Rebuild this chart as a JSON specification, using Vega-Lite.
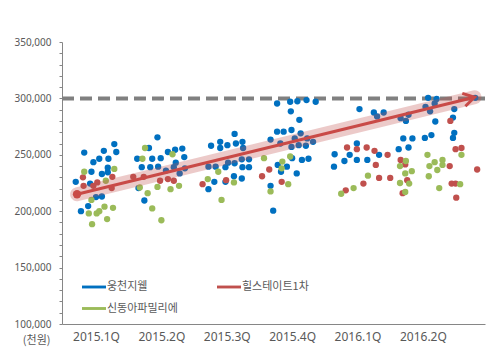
{
  "$schema": "https://vega.github.io/schema/vega-lite/v6.json",
  "width": 423,
  "height": 282,
  "autosize": {"type": "none"},
  "padding": {"left": 62, "top": 42, "right": 15, "bottom": 30},
  "background": "white",
  "config": {"view": {"stroke": null}, "font": "Noto Sans"},
  "datasets": {
    "trend": [{"t": -0.29, "price": 215000}, {"t": 5.79, "price": 301000}],
    "target": [{"t": -0.52, "price": 300000}, {"t": 5.95, "price": 300000}],
    "points": [
      {"name": "웅천지웰", "t": -0.18, "price": 252000}, {"name": "웅천지웰", "t": -0.04, "price": 243500}, {"name": "웅천지웰", "t": 0.05, "price": 246500}, {"name": "웅천지웰", "t": 0.12, "price": 253500}, {"name": "웅천지웰", "t": 0.19, "price": 246500}, {"name": "웅천지웰", "t": 0.28, "price": 259500}, {"name": "웅천지웰", "t": 0.31, "price": 252500}, {"name": "웅천지웰", "t": -0.31, "price": 226000}, {"name": "웅천지웰", "t": -0.07, "price": 235000}, {"name": "웅천지웰", "t": 0.09, "price": 233000}, {"name": "웅천지웰", "t": 0.18, "price": 234500}, {"name": "웅천지웰", "t": -0.09, "price": 224500}, {"name": "웅천지웰", "t": 0.09, "price": 213000}, {"name": "웅천지웰", "t": 0.0, "price": 212500}, {"name": "웅천지웰", "t": -0.12, "price": 204500}, {"name": "웅천지웰", "t": -0.23, "price": 200000}, {"name": "웅천지웰", "t": 0.18, "price": 238500},
      {"name": "웅천지웰", "t": 0.63, "price": 246500}, {"name": "웅천지웰", "t": 0.81, "price": 256000}, {"name": "웅천지웰", "t": 0.86, "price": 246500}, {"name": "웅천지웰", "t": 0.99, "price": 247000}, {"name": "웅천지웰", "t": 0.94, "price": 265500}, {"name": "웅천지웰", "t": 1.1, "price": 252500}, {"name": "웅천지웰", "t": 1.21, "price": 254500}, {"name": "웅천지웰", "t": 1.32, "price": 255500}, {"name": "웅천지웰", "t": 1.35, "price": 248000}, {"name": "웅천지웰", "t": 1.22, "price": 243000}, {"name": "웅천지웰", "t": 0.74, "price": 209500}, {"name": "웅천지웰", "t": 0.65, "price": 220500}, {"name": "웅천지웰", "t": 0.7, "price": 239000}, {"name": "웅천지웰", "t": 0.83, "price": 239000}, {"name": "웅천지웰", "t": 0.95, "price": 239500}, {"name": "웅천지웰", "t": 1.07, "price": 236000}, {"name": "웅천지웰", "t": 1.19, "price": 239000},
      {"name": "웅천지웰", "t": 1.76, "price": 258000}, {"name": "웅천지웰", "t": 1.9, "price": 261500}, {"name": "웅천지웰", "t": 1.9, "price": 256000}, {"name": "웅천지웰", "t": 2.01, "price": 258500}, {"name": "웅천지웰", "t": 2.12, "price": 268500}, {"name": "웅천지웰", "t": 2.14, "price": 260000}, {"name": "웅천지웰", "t": 2.24, "price": 261500}, {"name": "웅천지웰", "t": 2.25, "price": 256000}, {"name": "웅천지웰", "t": 1.72, "price": 219500}, {"name": "웅천지웰", "t": 1.81, "price": 226000}, {"name": "웅천지웰", "t": 1.98, "price": 226000}, {"name": "웅천지웰", "t": 2.11, "price": 231000}, {"name": "웅천지웰", "t": 2.23, "price": 229000}, {"name": "웅천지웰", "t": 2.24, "price": 239000}, {"name": "웅천지웰", "t": 2.34, "price": 239000}, {"name": "웅천지웰", "t": 1.72, "price": 239500}, {"name": "웅천지웰", "t": 1.83, "price": 239500}, {"name": "웅천지웰", "t": 1.98, "price": 239000}, {"name": "웅천지웰", "t": 2.12, "price": 242500}, {"name": "웅천지웰", "t": 2.23, "price": 246000}, {"name": "웅천지웰", "t": 2.34, "price": 246000}, {"name": "웅천지웰", "t": 2.02, "price": 243000}, {"name": "웅천지웰", "t": 1.36, "price": 238000}, {"name": "웅천지웰", "t": 1.28, "price": 233500},
      {"name": "웅천지웰", "t": 2.67, "price": 263500}, {"name": "웅천지웰", "t": 2.77, "price": 270500}, {"name": "웅천지웰", "t": 2.78, "price": 241000}, {"name": "웅천지웰", "t": 2.67, "price": 222500}, {"name": "웅천지웰", "t": 2.71, "price": 200500}, {"name": "웅천지웰", "t": 2.77, "price": 295500}, {"name": "웅천지웰", "t": 2.97, "price": 297000}, {"name": "웅천지웰", "t": 3.08, "price": 297500}, {"name": "웅천지웰", "t": 3.22, "price": 298500}, {"name": "웅천지웰", "t": 3.36, "price": 297000}, {"name": "웅천지웰", "t": 2.98, "price": 288500}, {"name": "웅천지웰", "t": 3.11, "price": 281000}, {"name": "웅천지웰", "t": 2.99, "price": 272000}, {"name": "웅천지웰", "t": 3.13, "price": 269000}, {"name": "웅천지웰", "t": 3.04, "price": 264500}, {"name": "웅천지웰", "t": 3.23, "price": 264500}, {"name": "웅천지웰", "t": 3.32, "price": 261500}, {"name": "웅천지웰", "t": 3.1, "price": 258500}, {"name": "웅천지웰", "t": 3.21, "price": 258000}, {"name": "웅천지웰", "t": 2.99, "price": 257000}, {"name": "웅천지웰", "t": 2.87, "price": 270500}, {"name": "웅천지웰", "t": 2.82, "price": 260000}, {"name": "웅천지웰", "t": 3.0, "price": 247000}, {"name": "웅천지웰", "t": 3.15, "price": 245500}, {"name": "웅천지웰", "t": 3.25, "price": 246500}, {"name": "웅천지웰", "t": 2.92, "price": 239500}, {"name": "웅천지웰", "t": 3.07, "price": 233500}, {"name": "웅천지웰", "t": 2.83, "price": 235000},
      {"name": "웅천지웰", "t": 4.03, "price": 290500}, {"name": "웅천지웰", "t": 4.25, "price": 287500}, {"name": "웅천지웰", "t": 4.3, "price": 284000}, {"name": "웅천지웰", "t": 4.4, "price": 287500}, {"name": "웅천지웰", "t": 3.65, "price": 250500}, {"name": "웅천지웰", "t": 3.88, "price": 250000}, {"name": "웅천지웰", "t": 3.99, "price": 260000}, {"name": "웅천지웰", "t": 3.8, "price": 244500}, {"name": "웅천지웰", "t": 3.99, "price": 245500}, {"name": "웅천지웰", "t": 4.15, "price": 245500}, {"name": "웅천지웰", "t": 4.33, "price": 250000}, {"name": "웅천지웰", "t": 3.64, "price": 239500}, {"name": "웅천지웰", "t": 4.66, "price": 282500}, {"name": "웅천지웰", "t": 4.74, "price": 280000}, {"name": "웅천지웰", "t": 4.78, "price": 285500}, {"name": "웅천지웰", "t": 4.63, "price": 255000}, {"name": "웅천지웰", "t": 4.78, "price": 256500}, {"name": "웅천지웰", "t": 4.7, "price": 264500}, {"name": "웅천지웰", "t": 4.84, "price": 264500},
      {"name": "웅천지웰", "t": 5.08, "price": 300500}, {"name": "웅천지웰", "t": 5.21, "price": 299500}, {"name": "웅천지웰", "t": 5.18, "price": 295500}, {"name": "웅천지웰", "t": 5.04, "price": 292500}, {"name": "웅천지웰", "t": 5.11, "price": 288500}, {"name": "웅천지웰", "t": 5.8, "price": 300500}, {"name": "웅천지웰", "t": 5.48, "price": 290500}, {"name": "웅천지웰", "t": 5.46, "price": 283000}, {"name": "웅천지웰", "t": 5.19, "price": 279500}, {"name": "웅천지웰", "t": 5.03, "price": 265000}, {"name": "웅천지웰", "t": 5.13, "price": 267500}, {"name": "웅천지웰", "t": 5.48, "price": 269500}, {"name": "웅천지웰", "t": 5.46, "price": 265000},
      {"name": "힐스테이트1차", "t": -0.2, "price": 230000}, {"name": "힐스테이트1차", "t": -0.19, "price": 222500}, {"name": "힐스테이트1차", "t": -0.04, "price": 222500}, {"name": "힐스테이트1차", "t": 0.02, "price": 225500}, {"name": "힐스테이트1차", "t": 0.25, "price": 230500}, {"name": "힐스테이트1차", "t": 0.24, "price": 220500}, {"name": "힐스테이트1차", "t": 0.57, "price": 230500}, {"name": "힐스테이트1차", "t": 0.98, "price": 227000}, {"name": "힐스테이트1차", "t": 1.1, "price": 228500}, {"name": "힐스테이트1차", "t": 1.19, "price": 227000}, {"name": "힐스테이트1차", "t": 0.73, "price": 230500}, {"name": "힐스테이트1차", "t": 1.63, "price": 224000}, {"name": "힐스테이트1차", "t": 1.99, "price": 227500}, {"name": "힐스테이트1차", "t": 2.54, "price": 231000}, {"name": "힐스테이트1차", "t": 2.65, "price": 237000}, {"name": "힐스테이트1차", "t": 2.84, "price": 226000}, {"name": "힐스테이트1차", "t": 3.84, "price": 256500}, {"name": "힐스테이트1차", "t": 3.99, "price": 255000}, {"name": "힐스테이트1차", "t": 4.14, "price": 256500}, {"name": "힐스테이트1차", "t": 4.26, "price": 253500}, {"name": "힐스테이트1차", "t": 4.46, "price": 250000}, {"name": "힐스테이트1차", "t": 4.28, "price": 241000}, {"name": "힐스테이트1차", "t": 4.33, "price": 229500}, {"name": "힐스테이트1차", "t": 4.5, "price": 229500}, {"name": "힐스테이트1차", "t": 4.09, "price": 224500}, {"name": "힐스테이트1차", "t": 3.82, "price": 218500}, {"name": "힐스테이트1차", "t": 4.66, "price": 245500}, {"name": "힐스테이트1차", "t": 4.73, "price": 241500}, {"name": "힐스테이트1차", "t": 4.76, "price": 227500}, {"name": "힐스테이트1차", "t": 4.69, "price": 216000}, {"name": "힐스테이트1차", "t": 5.42, "price": 280000}, {"name": "힐스테이트1차", "t": 5.5, "price": 255000}, {"name": "힐스테이트1차", "t": 5.59, "price": 256000}, {"name": "힐스테이트1차", "t": 5.41, "price": 240000}, {"name": "힐스테이트1차", "t": 5.83, "price": 237000}, {"name": "힐스테이트1차", "t": 5.44, "price": 224500}, {"name": "힐스테이트1차", "t": 5.5, "price": 224500}, {"name": "힐스테이트1차", "t": 5.51, "price": 212000},
      {"name": "신동아파밀리에", "t": -0.18, "price": 235000}, {"name": "신동아파밀리에", "t": 0.28, "price": 237500}, {"name": "신동아파밀리에", "t": 0.15, "price": 227000}, {"name": "신동아파밀리에", "t": -0.07, "price": 210000}, {"name": "신동아파밀리에", "t": 0.01, "price": 198000}, {"name": "신동아파밀리에", "t": 0.05, "price": 200000}, {"name": "신동아파밀리에", "t": 0.13, "price": 204000}, {"name": "신동아파밀리에", "t": 0.26, "price": 203000}, {"name": "신동아파밀리에", "t": -0.11, "price": 198000}, {"name": "신동아파밀리에", "t": -0.06, "price": 188500}, {"name": "신동아파밀리에", "t": 0.17, "price": 193000},
      {"name": "신동아파밀리에", "t": 0.75, "price": 256000}, {"name": "신동아파밀리에", "t": 0.71, "price": 246500}, {"name": "신동아파밀리에", "t": 0.67, "price": 221000}, {"name": "신동아파밀리에", "t": 0.79, "price": 216000}, {"name": "신동아파밀리에", "t": 0.94, "price": 221500}, {"name": "신동아파밀리에", "t": 0.86, "price": 202500}, {"name": "신동아파밀리에", "t": 1.0, "price": 192000}, {"name": "신동아파밀리에", "t": 1.17, "price": 250500}, {"name": "신동아파밀리에", "t": 1.14, "price": 219500}, {"name": "신동아파밀리에", "t": 1.27, "price": 222500},
      {"name": "신동아파밀리에", "t": 1.71, "price": 228500}, {"name": "신동아파밀리에", "t": 1.87, "price": 235000}, {"name": "신동아파밀리에", "t": 1.92, "price": 210000}, {"name": "신동아파밀리에", "t": 2.11, "price": 225500}, {"name": "신동아파밀리에", "t": 2.57, "price": 247000}, {"name": "신동아파밀리에", "t": 2.67, "price": 217500},
      {"name": "신동아파밀리에", "t": 2.85, "price": 244000}, {"name": "신동아파밀리에", "t": 2.97, "price": 248500}, {"name": "신동아파밀리에", "t": 2.84, "price": 238000}, {"name": "신동아파밀리에", "t": 2.94, "price": 224000},
      {"name": "신동아파밀리에", "t": 4.16, "price": 231500}, {"name": "신동아파밀리에", "t": 3.94, "price": 220500}, {"name": "신동아파밀리에", "t": 3.75, "price": 215500}, {"name": "신동아파밀리에", "t": 4.74, "price": 244500}, {"name": "신동아파밀리에", "t": 4.65, "price": 240000}, {"name": "신동아파밀리에", "t": 4.83, "price": 235500}, {"name": "신동아파밀리에", "t": 4.73, "price": 233500}, {"name": "신동아파밀리에", "t": 4.65, "price": 225000}, {"name": "신동아파밀리에", "t": 4.79, "price": 224500}, {"name": "신동아파밀리에", "t": 4.73, "price": 217000},
      {"name": "신동아파밀리에", "t": 5.07, "price": 250000}, {"name": "신동아파밀리에", "t": 5.18, "price": 243500}, {"name": "신동아파밀리에", "t": 5.3, "price": 245500}, {"name": "신동아파밀리에", "t": 5.3, "price": 241000}, {"name": "신동아파밀리에", "t": 5.1, "price": 240000}, {"name": "신동아파밀리에", "t": 5.22, "price": 236500}, {"name": "신동아파밀리에", "t": 5.59, "price": 250000}, {"name": "신동아파밀리에", "t": 5.09, "price": 231000}, {"name": "신동아파밀리에", "t": 5.25, "price": 220500}, {"name": "신동아파밀리에", "t": 5.57, "price": 224000}
    ]
  },
  "encoding": {
    "x": {
      "field": "t", "type": "quantitative",
      "scale": {"domain": [-0.52, 5.95], "nice": false, "zero": false},
      "axis": {
        "values": [0, 1, 2, 3, 4, 5],
        "labelExpr": "['2015.1Q','2015.2Q','2015.3Q','2015.4Q','2016.1Q','2016.2Q'][datum.value]",
        "ticks": false, "grid": false, "domainColor": "#868686",
        "labelFont": "Noto Sans", "labelFontSize": 12, "labelColor": "#595959",
        "labelPadding": 7, "title": null, "labelOverlap": false
      }
    },
    "y": {
      "field": "price", "type": "quantitative",
      "scale": {"domain": [100000, 350000], "nice": false, "zero": false},
      "axis": {
        "values": [100000, 110000, 120000, 130000, 140000, 150000, 160000, 170000, 180000, 190000, 200000, 210000, 220000, 230000, 240000, 250000, 260000, 270000, 280000, 290000, 300000, 310000, 320000, 330000, 340000, 350000],
        "labelExpr": "datum.value % 50000 === 0 ? format(datum.value, ',') : ''",
        "labelOverlap": false,
        "tickSize": 3, "tickColor": "#868686", "domainColor": "#868686", "grid": false,
        "labelFont": "Noto Sans", "labelFontSize": 10, "labelColor": "#595959", "labelPadding": 8,
        "title": "(천원)", "titleAngle": 0, "titleX": -12, "titleY": 298,
        "titleAlign": "right", "titleBaseline": "middle", "titleFontWeight": "normal",
        "titleFontSize": 11, "titleColor": "#595959", "titleFont": "Noto Sans CJK KR"
      }
    }
  },
  "layer": [
    {
      "data": {"name": "target"},
      "mark": {"type": "line", "color": "#808080", "strokeWidth": 4, "strokeDash": [12, 6]},
      "encoding": {}
    },
    {
      "data": {"name": "points"},
      "mark": {"type": "circle", "size": 40, "opacity": 1},
      "encoding": {
        "color": {
          "field": "name", "type": "nominal",
          "scale": {"domain": ["웅천지웰", "힐스테이트1차", "신동아파밀리에"], "range": ["#0070C0", "#C0504D", "#9BBB59"]},
          "sort": null,
          "legend": {
            "title": null, "orient": "none", "legendX": 20, "legendY": 233,
            "direction": "horizontal", "columns": 2, "columnPadding": 39, "rowPadding": 4.5,
            "symbolType": "M-1,-0.12L1,-0.12L1,0.12L-1,0.12Z", "symbolSize": 576, "symbolStrokeWidth": 0,
            "labelFont": "Noto Sans CJK KR", "labelFontSize": 11, "labelColor": "#595959", "labelOffset": 1,
            "encode": {"symbols": {"update": {
              "fill": {"signal": "datum.value === '웅천지웰' ? '#4F81BD' : scale('color', datum.value)"}
            }}}
          }
        }
      }
    },
    {
      "data": {"name": "trend"},
      "mark": {"type": "line", "color": "#C0504D", "opacity": 0.3, "strokeWidth": 14, "strokeCap": "round"},
      "encoding": {}
    },
    {
      "data": {"name": "trend"},
      "mark": {"type": "line", "color": "#C94A47", "strokeWidth": 3},
      "encoding": {}
    },
    {
      "data": {"name": "trend"},
      "transform": [{"filter": "datum.t < 0"}],
      "mark": {"type": "point", "shape": "circle", "filled": true, "color": "#C94A47", "size": 70, "opacity": 1}
    },
    {
      "data": {"name": "trend"},
      "transform": [{"filter": "datum.t > 5"}],
      "mark": {"type": "point", "shape": "M-1,-0.6L0,0L-1,0.6", "filled": false, "color": "#C94A47", "strokeWidth": 3, "size": 484, "angle": 346.5, "opacity": 1}
    }
  ]
}
